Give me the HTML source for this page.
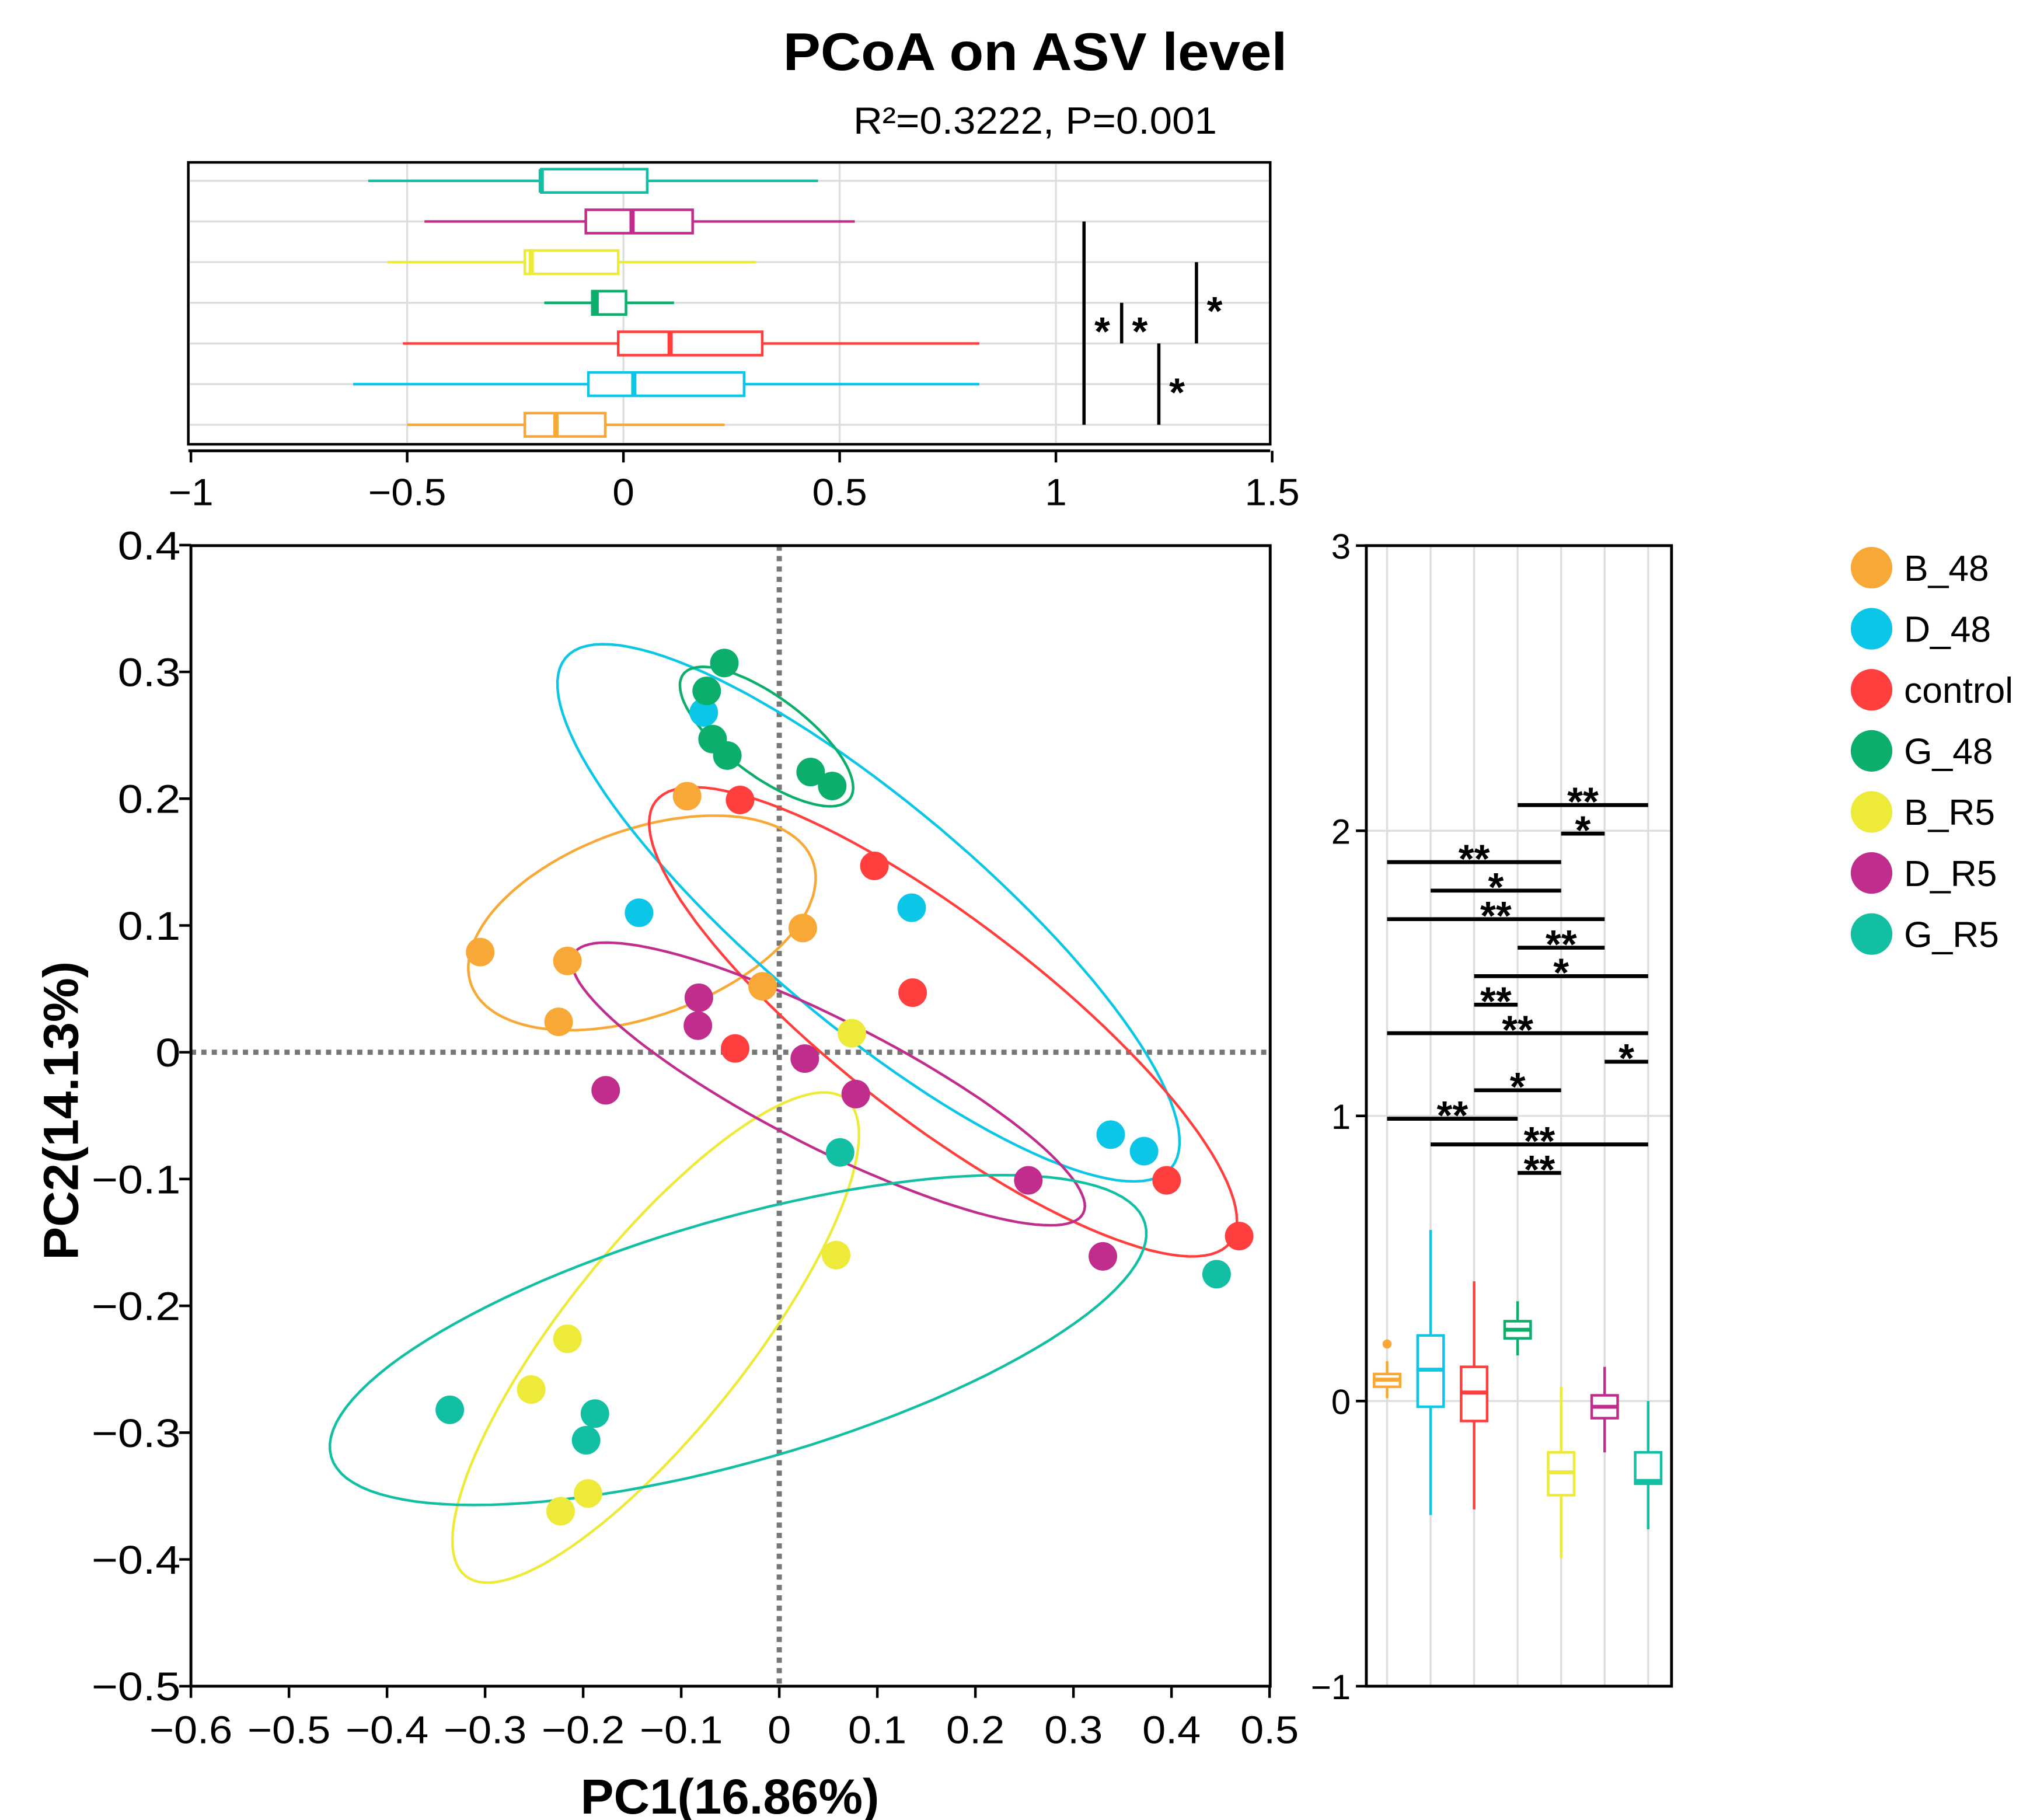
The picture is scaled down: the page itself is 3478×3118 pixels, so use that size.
<!DOCTYPE html>
<html><head><meta charset="utf-8"><style>
html,body{margin:0;padding:0;background:#fff}
svg{display:block}
text{font-family:"Liberation Sans",Arial,sans-serif}
</style></head><body>
<svg id="chart" xmlns="http://www.w3.org/2000/svg" width="3478" height="3118" viewBox="0 0 1563 1401" preserveAspectRatio="none">
<text x="797" y="54" text-anchor="middle" font-size="41" font-weight="bold" textLength="388" lengthAdjust="spacingAndGlyphs">PCoA on ASV level</text>
<text x="797" y="103" text-anchor="middle" font-size="29" textLength="280" lengthAdjust="spacingAndGlyphs">R²=0.3222, P=0.001</text>
<text x="562" y="1396" text-anchor="middle" font-size="38" font-weight="bold" textLength="230" lengthAdjust="spacingAndGlyphs">PC1(16.86%)</text>
<text transform="translate(60,855) rotate(-90)" text-anchor="middle" font-size="38" font-weight="bold" textLength="230" lengthAdjust="spacingAndGlyphs">PC2(14.13%)</text>
<g id="top"></g><g id="main"></g><g id="right"></g><g id="legend"></g>
</svg>
<script>
const groups=['B_48','D_48','control','G_48','B_R5','D_R5','G_R5'];
const colors=['#F7A836','#0CC6E7','#FF3E3E','#0BAE6A','#EEEA3A','#C02D8C','#12BFA3'];
// points per group [x,y]
const ptsB48=[[-0.094,0.202],[0.024,0.098],[-0.305,0.079],[-0.216,0.072],[-0.017,0.052],[-0.225,0.024]];
const ptsD48=[[-0.077,0.268],[-0.143,0.11],[0.135,0.114],[0.338,-0.065],[0.372,-0.078]];
const ptsCtrl=[[-0.04,0.199],[0.097,0.147],[0.136,0.047],[-0.045,0.003],[0.395,-0.101],[0.469,-0.145]];
const ptsG48=[[-0.056,0.307],[-0.074,0.285],[-0.068,0.247],[-0.053,0.234],[0.032,0.221],[0.054,0.21]];
const ptsBR5=[[0.074,0.015],[0.058,-0.16],[-0.216,-0.226],[-0.253,-0.266],[-0.195,-0.348],[-0.223,-0.362]];
const ptsDR5=[[-0.082,0.043],[-0.083,0.021],[0.026,-0.005],[0.078,-0.033],[-0.177,-0.03],[0.254,-0.101],[0.33,-0.161]];
const ptsGR5=[[0.062,-0.079],[0.446,-0.175],[-0.336,-0.282],[-0.188,-0.285],[-0.197,-0.306]];
const allPts=[ptsB48,ptsD48,ptsCtrl,ptsG48,ptsBR5,ptsDR5,ptsGR5];
// ellipse center, axis1, axis2 (data units)
const ellCenter=[[-0.140,0.102],[0.091,0.110],[0.167,0.024],[-0.013,0.249],[-0.126,-0.225],[0.050,-0.025],[-0.042,-0.227]];
const ellAxis1=[[0.174,0.049],[0.309,-0.201],[0.293,-0.174],[0.085,-0.049],[0.194,0.188],[0.260,-0.102],[0.415,0.092]];
const ellAxis2=[[0.033,-0.069],[-0.072,-0.067],[-0.063,-0.063],[-0.024,-0.025],[0.073,-0.045],[-0.029,-0.045],[0.034,-0.092]];
const mainXTicks=[-0.6,-0.5,-0.4,-0.3,-0.2,-0.1,0,0.1,0.2,0.3,0.4,0.5];
const mainYTicks=[0.4,0.3,0.2,0.1,0,-0.1,-0.2,-0.3,-0.4,-0.5];
// top boxplot (PC1) rows: [wLo,q1,med,q3,wHi]
const topStats=[[-0.5,-0.228,-0.156,-0.042,0.234],[-0.625,-0.081,0.024,0.279,0.823],[-0.51,-0.012,0.108,0.321,0.823],[-0.183,-0.072,-0.063,0.006,0.117],[-0.545,-0.228,-0.213,-0.012,0.306],[-0.46,-0.087,0.02,0.16,0.535],[-0.59,-0.19,-0.19,0.055,0.45]];
const topTicks=[-1,-0.5,0,0.5,1,1.5];
// top significance: [fromRow,toRow,xValue,label]
const topSig=[[0,5,1.065,'*'],[2,3,1.152,'*'],[2,4,1.325,'*'],[0,2,1.238,'*']];
// right boxplot (PC2)
const rightStats=[[0.01,0.05,0.075,0.095,0.14],[-0.4,-0.02,0.11,0.23,0.6],[-0.38,-0.07,0.03,0.12,0.42],[0.16,0.22,0.25,0.28,0.35],[-0.55,-0.33,-0.25,-0.18,0.05],[-0.18,-0.06,-0.02,0.02,0.12],[-0.45,-0.29,-0.28,-0.18,0.0]];
const rightOutliers=[[0,0.2]];
const rightTicks=[3,2,1,0,-1];
// right significance: [fromGroup,toGroup,yValue,label]
const rightSig=[[3,6,2.09,'**'],[4,5,1.99,'*'],[0,4,1.89,'**'],[1,4,1.79,'*'],[0,5,1.69,'**'],[3,5,1.59,'**'],[2,6,1.49,'*'],[2,3,1.39,'**'],[0,6,1.29,'**'],[5,6,1.19,'*'],[2,4,1.09,'*'],[0,3,0.99,'**'],[1,6,0.9,'**'],[3,4,0.8,'**']];

const NS='http://www.w3.org/2000/svg';
function mk(parent,tag,attrs,txt){const e=document.createElementNS(NS,tag);for(const k in attrs)e.setAttribute(k,attrs[k]);if(txt!==undefined)e.textContent=txt;parent.appendChild(e);return e;}
function stretch(t,f){const w=t.getComputedTextLength();t.setAttribute('textLength',(w*f).toFixed(1));t.setAttribute('lengthAdjust','spacingAndGlyphs');}
function fmt(v){return (Math.round(v*10)/10).toString().replace('-','\u2212');}

// ---- main panel
const mx=v=>600+v*755, my=v=>810-v*976;
const M=document.getElementById('main');
const X0=147,X1=978,Y0=420,Y1=1298;
mk(M,'line',{x1:X0,y1:my(0),x2:X1,y2:my(0),stroke:'#777','stroke-width':4,'stroke-dasharray':'4 4'});
mk(M,'line',{x1:mx(0),y1:Y0,x2:mx(0),y2:Y1,stroke:'#777','stroke-width':4,'stroke-dasharray':'4 4'});
ellCenter.forEach((c,i)=>{
  let d='';
  for(let k=0;k<=120;k++){const t=k/120*2*Math.PI;
    const x=c[0]+ellAxis1[i][0]*Math.cos(t)+ellAxis2[i][0]*Math.sin(t);
    const y=c[1]+ellAxis1[i][1]*Math.cos(t)+ellAxis2[i][1]*Math.sin(t);
    d+=(k?'L':'M')+mx(x).toFixed(1)+','+my(y).toFixed(1);}
  const e=mk(M,'path',{d:d+'Z',fill:'none',stroke:colors[i],'stroke-width':2});
  
  
});
allPts.forEach((arr,i)=>arr.forEach(p=>{
  const c=mk(M,'circle',{cx:mx(p[0]),cy:my(p[1]),r:11,fill:colors[i]});
  
  
}));
mk(M,'rect',{x:X0,y:Y0,width:X1-X0,height:Y1-Y0,fill:'none',stroke:'#000','stroke-width':2.2});
mainXTicks.forEach(v=>{mk(M,'line',{x1:mx(v),y1:Y1,x2:mx(v),y2:Y1+9,stroke:'#000','stroke-width':2});
  const t=mk(M,'text',{x:mx(v),y:Y1+44,'text-anchor':'middle','font-size':30},fmt(v));
  
  stretch(t,1.08);});
mainYTicks.forEach(v=>{mk(M,'line',{x1:X0-9,y1:my(v),x2:X0,y2:my(v),stroke:'#000','stroke-width':2});
  const t=mk(M,'text',{x:X0-8,y:my(v)+11,'text-anchor':'end','font-size':31},fmt(v));
  
  stretch(t,1.12);});

// ---- top panel
const T=document.getElementById('top');
const tx=v=>480+v*333, rowY=i=>327-i*31.3;
mk(T,'rect',{x:145,y:125,width:833,height:217,fill:'#fff',stroke:'#000','stroke-width':2});
[-0.5,0,0.5,1].forEach(v=>mk(T,'line',{x1:tx(v),y1:126,x2:tx(v),y2:341,stroke:'#ddd','stroke-width':1.5}));
groups.forEach((g,i)=>mk(T,'line',{x1:146,y1:rowY(i),x2:977,y2:rowY(i),stroke:'#ddd','stroke-width':1.5}));
topStats.forEach((s,i)=>{const y=rowY(i),c=colors[i];
  mk(T,'line',{x1:tx(s[0]),y1:y,x2:tx(s[4]),y2:y,stroke:c,'stroke-width':2});
  const r=mk(T,'rect',{x:tx(s[1]),y:y-9,width:tx(s[3])-tx(s[1]),height:18,fill:'#fff',stroke:c,'stroke-width':2});
  
  mk(T,'line',{x1:tx(s[2]),y1:y-9,x2:tx(s[2]),y2:y+9,stroke:c,'stroke-width':4});
});
topSig.forEach(s=>{const x=tx(s[2]);
  mk(T,'line',{x1:x,y1:rowY(s[1]),x2:x,y2:rowY(s[0]),stroke:'#000','stroke-width':2.5});
  mk(T,'text',{x:x+14,y:(rowY(s[0])+rowY(s[1]))/2+17,'text-anchor':'middle','font-size':31,'font-weight':'bold'},s[3]);});
mk(T,'line',{x1:145,y1:347,x2:978,y2:347,stroke:'#000','stroke-width':2.2});
topTicks.forEach(v=>{mk(T,'line',{x1:tx(v),y1:347,x2:tx(v),y2:356,stroke:'#000','stroke-width':2});
  const t=mk(T,'text',{x:tx(v),y:389,'text-anchor':'middle','font-size':29},fmt(v));
  
  stretch(t,1.05);});

// ---- right panel
const R=document.getElementById('right');
const gx=i=>1068+i*33.5, ry=v=>1078.5-v*219.5;
mk(R,'rect',{x:1052,y:420,width:235,height:878,fill:'#fff'});
groups.forEach((g,i)=>mk(R,'line',{x1:gx(i),y1:421,x2:gx(i),y2:1297,stroke:'#ddd','stroke-width':1.5}));
[0,1,2].forEach(v=>mk(R,'line',{x1:1053,y1:ry(v),x2:1286,y2:ry(v),stroke:'#ddd','stroke-width':1.5}));
rightStats.forEach((s,i)=>{const x=gx(i),c=colors[i];
  mk(R,'line',{x1:x,y1:ry(s[0]),x2:x,y2:ry(s[4]),stroke:c,'stroke-width':2});
  const r=mk(R,'rect',{x:x-10,y:ry(s[3]),width:20,height:ry(s[1])-ry(s[3]),fill:'#fff',stroke:c,'stroke-width':2});
  
  mk(R,'line',{x1:x-10,y1:ry(s[2]),x2:x+10,y2:ry(s[2]),stroke:c,'stroke-width':3});
});
rightOutliers.forEach(o=>mk(R,'circle',{cx:gx(o[0]),cy:ry(o[1]),r:3.5,fill:colors[o[0]]}));
rightSig.forEach(s=>{const y=ry(s[2]);
  mk(R,'line',{x1:gx(s[0]),y1:y,x2:gx(s[1]),y2:y,stroke:'#000','stroke-width':3});
  mk(R,'text',{x:(gx(s[0])+gx(s[1]))/2,y:y+8,'text-anchor':'middle','font-size':31,'font-weight':'bold'},s[3]);});
mk(R,'rect',{x:1052,y:420,width:235,height:878,fill:'none',stroke:'#000','stroke-width':2.2});
rightTicks.forEach(v=>{mk(R,'line',{x1:1044,y1:ry(v),x2:1052,y2:ry(v),stroke:'#000','stroke-width':2});
  const t=mk(R,'text',{x:1040,y:ry(v)+10,'text-anchor':'end','font-size':27},fmt(v));
  });

// ---- legend
const L=document.getElementById('legend');
groups.forEach((g,i)=>{const y=437+i*47;
  const gg=mk(L,'g',{});
  
  
  mk(gg,'circle',{cx:1441,cy:y,r:16,fill:colors[i]});
  mk(gg,'text',{x:1466,y:y+10,'font-size':28},g);});
</script>
</body></html>
